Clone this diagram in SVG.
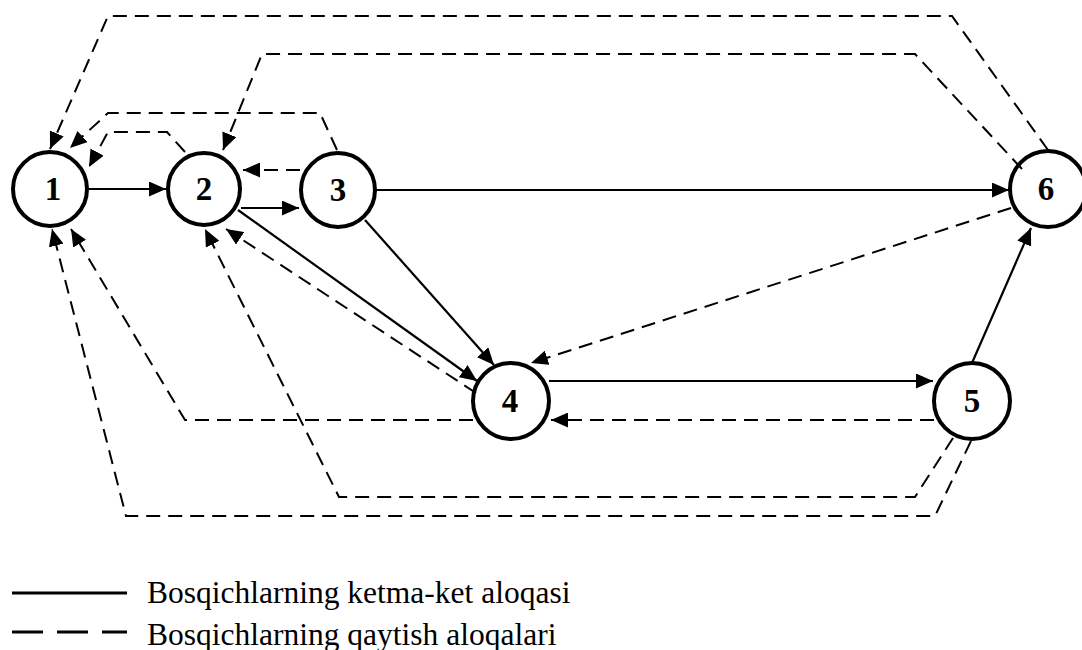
<svg xmlns="http://www.w3.org/2000/svg" width="1082" height="650" viewBox="0 0 1082 650">
<style>
.node circle{fill:#fff;stroke:#000;stroke-width:4}
.node text{font-family:"Liberation Serif","Times New Roman",serif;font-weight:bold;font-size:33px;text-anchor:middle;fill:#000}
.s{fill:none;stroke:#000;stroke-width:2.2}
.d{fill:none;stroke:#000;stroke-width:2;stroke-dasharray:14 8}
.lg{font-family:"Liberation Serif","Times New Roman",serif;font-size:31.5px;fill:#000}
</style>
<defs>
<marker id="ah" markerUnits="userSpaceOnUse" markerWidth="18" markerHeight="15" refX="17" refY="7.5" orient="auto">
<path d="M0,0 L17,7.5 L0,15 z" fill="#000" stroke="none"/>
</marker>
</defs>
<rect width="1082" height="650" fill="#fff"/>
<g id="node1" class="node"><circle cx="50" cy="189" r="37"/><text x="53" y="200">1</text></g>
<g id="node2" class="node"><circle cx="204" cy="189" r="36"/><text x="204" y="200">2</text></g>
<g id="node3" class="node"><circle cx="338" cy="190" r="37"/><text x="338" y="201">3</text></g>
<g id="node4" class="node"><circle cx="511" cy="401" r="38"/><text x="510" y="412">4</text></g>
<g id="node5" class="node"><circle cx="972" cy="401" r="38"/><text x="972" y="412">5</text></g>
<g id="node6" class="node"><circle cx="1048" cy="189" r="38"/><text x="1046" y="200">6</text></g>
<g id="connectors">
<path class="s" d="M89,189 L166,189" marker-end="url(#ah)"/>
<path class="s" d="M241,208 L299,208" marker-end="url(#ah)"/>
<path class="s" d="M376,190 L1009,190" marker-end="url(#ah)"/>
<path class="s" d="M238,210 L477,381" marker-end="url(#ah)"/>
<path class="s" d="M365,220 L494,365" marker-end="url(#ah)"/>
<path class="s" d="M549,381 L933,381" marker-end="url(#ah)"/>
<path class="s" d="M972,363 L1031,228" marker-end="url(#ah)"/>
<path class="d" d="M300,170 L243,170" marker-end="url(#ah)"/>
<path class="d" d="M185,152 L167,132 L108,132 L89,167" marker-end="url(#ah)"/>
<path class="d" d="M337,150 L320,113 L108,113 L70,148" marker-end="url(#ah)"/>
<path class="d" d="M1048,150 L952,16 L108,16 L50,149" marker-end="url(#ah)"/>
<path class="d" d="M1022,169 L915,54 L262,54 L223,150" marker-end="url(#ah)"/>
<path class="d" d="M1011,208 L531,363" marker-end="url(#ah)"/>
<path class="d" d="M934,420 L551,420" marker-end="url(#ah)"/>
<path class="d" d="M476,393 L226,229" marker-end="url(#ah)"/>
<path class="d" d="M473,420 L185,420 L71,229" marker-end="url(#ah)"/>
<path class="d" d="M971,441 L935,516 L126,516 L52,229" marker-end="url(#ah)"/>
<path class="d" d="M953,438 L915,497 L339,497 L205,229" marker-end="url(#ah)"/>
</g>
<g id="legend">
<path d="M12,593 L127,593" stroke="#000" stroke-width="3"/>
<path d="M12,632 L127,632" stroke="#000" stroke-width="3" stroke-dasharray="31 14"/>
<text class="lg" x="147" y="603">Bosqichlarning ketma-ket aloqasi</text>
<text class="lg" x="147" y="645">Bosqichlarning qaytish aloqalari</text>
</g>
</svg>
